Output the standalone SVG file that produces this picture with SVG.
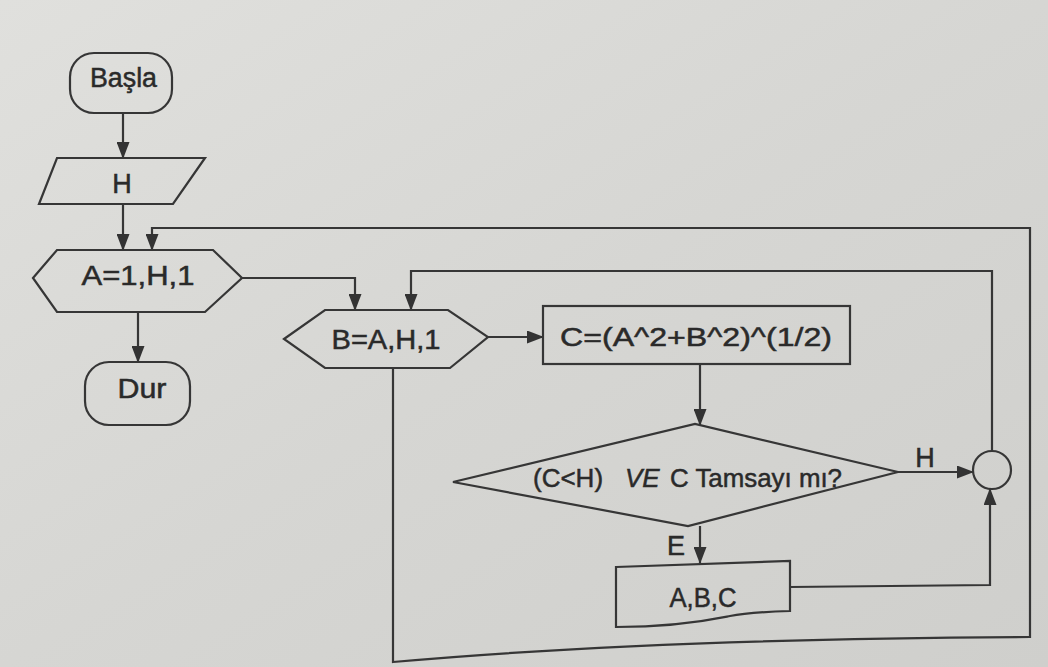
<svg xmlns="http://www.w3.org/2000/svg" width="1048" height="667" viewBox="0 0 1048 667">
<defs>
<linearGradient id="paper" x1="0" y1="0" x2="1" y2="1">
<stop offset="0" stop-color="#e0e0dd"/>
<stop offset="0.5" stop-color="#d6d6d3"/>
<stop offset="1" stop-color="#cfcfcc"/>
</linearGradient>
<marker id="ah" markerWidth="17" markerHeight="13" refX="16" refY="6.5" orient="auto" markerUnits="userSpaceOnUse">
<path d="M0,0 L17,6.5 L0,13 Z" fill="#333"/>
</marker>
<style>
.s{fill:none;stroke:#363636;stroke-width:2.2;stroke-linejoin:miter}
.c{fill:none;stroke:#363636;stroke-width:2.2;marker-end:url(#ah)}
.t{font-family:"Liberation Sans",Arial,sans-serif;font-size:27px;fill:#2a2a2a;stroke:#2a2a2a;stroke-width:0.5;text-anchor:middle}
.d{font-family:"Liberation Sans",Arial,sans-serif;font-size:26px;fill:#2a2a2a;stroke:#2a2a2a;stroke-width:0.5}
</style>
</defs>
<rect x="0" y="0" width="1048" height="667" fill="url(#paper)"/>

<g id="connectors">
<path class="c" d="M123,113 V158"/>
<path class="c" d="M123,204 V250"/>
<path class="c" d="M393,368 V662 Q650,639 1030,637 V228 H152 V250"/>
<path class="c" d="M242,278 H355 V310"/>
<path class="c" d="M138,312 V362"/>
<path class="c" d="M488,337 H543"/>
<path class="c" d="M700,363 V425"/>
<path class="c" d="M898,472 H973"/>
<path class="c" d="M700,526 V563"/>
<path class="c" d="M790,587 L990,585 V489"/>
<path class="c" d="M992,451 V271 H411 V310"/>
<text class="t" x="925" y="467" font-size="24">H</text>
<text class="t" x="676" y="555" font-size="24">E</text>
</g>

<g id="basla">
<rect class="s" x="70" y="53" width="102" height="60" rx="24"/>
<text class="t" x="123.5" y="87" textLength="67" lengthAdjust="spacingAndGlyphs">Başla</text>
</g>

<g id="input-h">
<polygon class="s" points="57,158 205,158 173,204 39,204"/>
<text class="t" x="122" y="193">H</text>
</g>

<g id="loop-a">
<polygon class="s" points="33,278 57,250 213,250 242,278 205,312 57,312"/>
<text class="t" x="138" y="285" textLength="113" lengthAdjust="spacingAndGlyphs">A=1,H,1</text>
</g>

<g id="dur">
<rect class="s" x="85" y="362" width="105" height="63" rx="24"/>
<text class="t" x="142" y="398" textLength="49" lengthAdjust="spacingAndGlyphs">Dur</text>
</g>

<g id="loop-b">
<polygon class="s" points="284,339 325,310 448,310 488,337 450,368 325,368"/>
<text class="t" x="386" y="349" textLength="109" lengthAdjust="spacingAndGlyphs">B=A,H,1</text>
</g>

<g id="calc-c">
<rect class="s" x="543" y="306" width="307" height="58"/>
<text class="d" x="560" y="346" textLength="272" lengthAdjust="spacingAndGlyphs">C=(A^2+B^2)^(1/2)</text>
</g>

<g id="decision">
<polygon class="s" points="453,482 695,424 898,472 688,526"/>
<text class="d" y="487"><tspan x="533">(C&lt;H)</tspan><tspan x="625" font-style="italic">VE</tspan><tspan x="670" textLength="172" lengthAdjust="spacingAndGlyphs">C Tamsayı mı?</tspan></text>
</g>

<g id="output-abc">
<path class="s" d="M616,567 L790,561 L790,611 C760,612 745,613 730,616 S680,627 616,627 Z"/>
<text class="t" x="703" y="607" textLength="67" lengthAdjust="spacingAndGlyphs">A,B,C</text>
</g>

<g id="connector-circle">
<circle class="s" cx="992" cy="470" r="19"/>
</g>
</svg>
